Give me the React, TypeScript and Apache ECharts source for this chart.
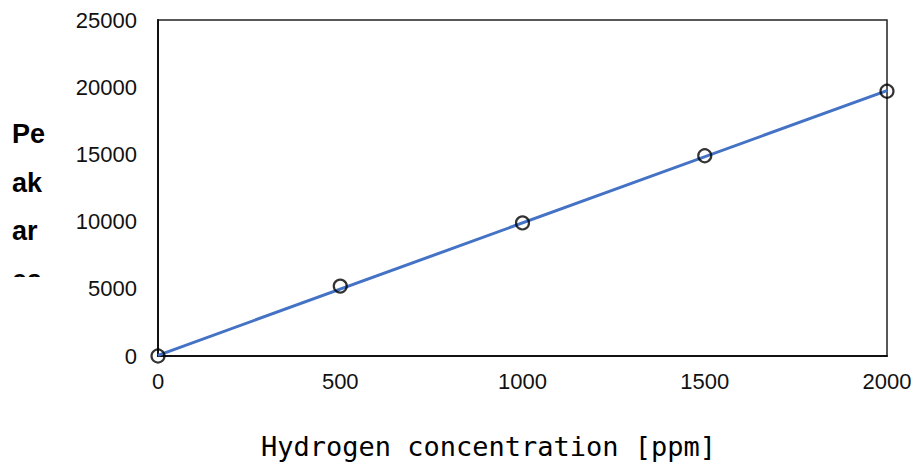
import React, { useEffect, useRef } from "react";
import * as echarts from "echarts";

const concentrations = [0, 500, 1000, 1500, 2000];
const peakAreas = [0, 5200, 9900, 14900, 19700];
const fitLine = [
  [0, 50],
  [2000, 19750],
];
const xTicks = [0, 500, 1000, 1500, 2000];
const yTicks = [0, 5000, 10000, 15000, 20000, 25000];

export default function App() {
  const ref = useRef<HTMLDivElement>(null);
  useEffect(() => {
    document.body.style.margin = "0";
    if (!ref.current) return;
    const chart = echarts.init(ref.current, null, { renderer: "svg" });
    chart.setOption({
      animation: false,
      backgroundColor: "#fff",
      grid: {
        left: 158,
        right: 30,
        top: 20,
        bottom: 113,
        show: true,
        borderColor: "#222",
        borderWidth: 1.5,
      },
      xAxis: {
        type: "value",
        min: xTicks[0],
        max: xTicks[xTicks.length - 1],
        interval: 500,
        name: "Hydrogen concentration [ppm]",
        nameLocation: "middle",
        nameGap: 77,
        nameTextStyle: {
          fontFamily: "DejaVu Sans Mono",
          fontSize: 27,
          color: "#000",
          padding: [0, 68, 0, 0],
        },
        axisLine: { show: true, lineStyle: { color: "#111", width: 2 } },
        axisTick: { show: false },
        splitLine: { show: false },
        axisLabel: {
          fontFamily: "Liberation Sans",
          fontSize: 22,
          color: "#111",
          margin: 14,
          formatter: (v: number) => String(v),
        },
      },
      yAxis: {
        type: "value",
        min: yTicks[0],
        max: yTicks[yTicks.length - 1],
        interval: 5000,
        axisLine: { show: true, lineStyle: { color: "#111", width: 2 } },
        axisTick: { show: false },
        splitLine: { show: false },
        axisLabel: {
          fontFamily: "Liberation Sans",
          fontSize: 22,
          color: "#111",
          margin: 21,
          formatter: (v: number) => String(v),
        },
      },
      graphic: [
        {
          type: "text",
          left: 12,
          top: 110,
          style: {
            text: "Pe\nak\nar\nea",
            fontFamily: "Liberation Sans",
            fontWeight: "bold",
            fontSize: 27,
            lineHeight: 48.5,
            fill: "#000",
          },
          z: 10,
        },
        {
          type: "rect",
          shape: { x: 0, y: 277, width: 62, height: 40 },
          style: { fill: "#fff" },
          z: 11,
        },
      ],
      series: [
        {
          type: "line",
          data: fitLine,
          symbol: "none",
          lineStyle: { color: "#4472C4", width: 3 },
          z: 2,
        },
        {
          type: "scatter",
          data: concentrations.map((c, i) => [c, peakAreas[i]]),
          symbol: "circle",
          symbolSize: 13,
          itemStyle: { color: "rgba(255,255,255,0)", borderColor: "#000", borderWidth: 2.2 },
          z: 3,
        },
      ],
    });
    return () => chart.dispose();
  }, []);
  return <div ref={ref} style={{ width: 917, height: 469 }} />;
}
